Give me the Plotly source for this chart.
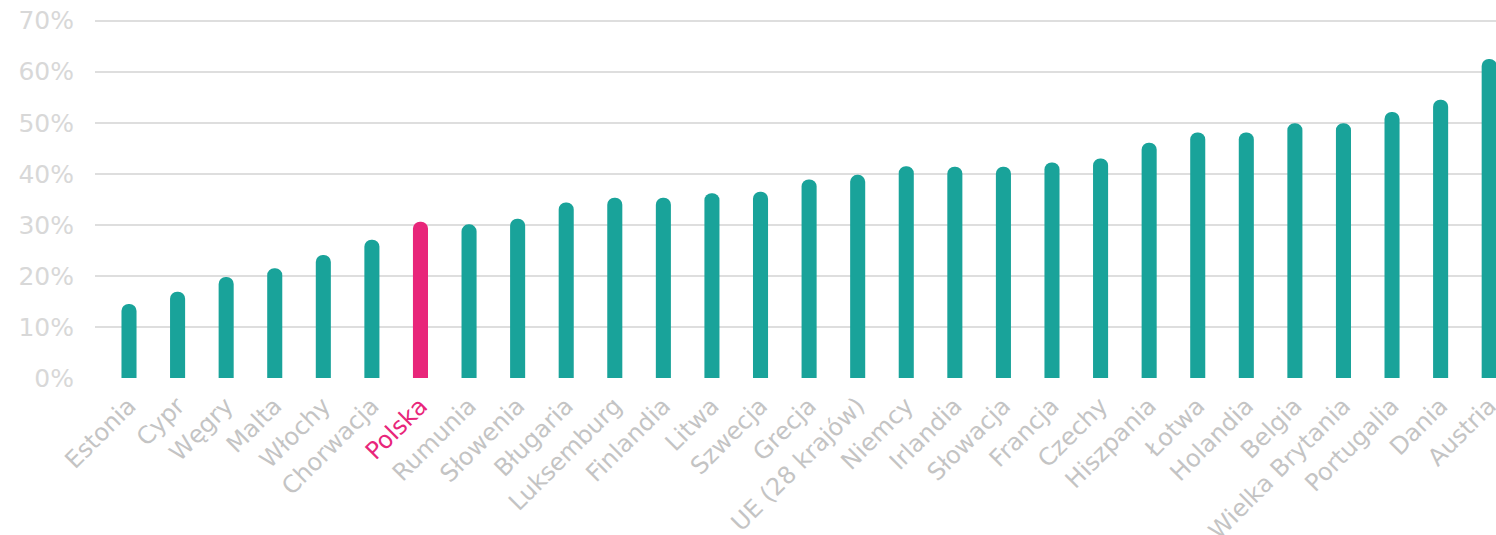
import plotly.graph_objects as go

countries = ["Estonia", "Cypr", "Węgry", "Malta", "Włochy", "Chorwacja", "Polska",
             "Rumunia", "Słowenia", "Bługaria", "Luksemburg", "Finlandia", "Litwa",
             "Szwecja", "Grecja", "UE (28 krajów)", "Niemcy", "Irlandia", "Słowacja",
             "Francja", "Czechy", "Hiszpania", "Łotwa", "Holandia", "Belgia",
             "Wielka Brytania", "Portugalia", "Dania", "Austria"]
values = [14.5, 16.9, 19.8, 21.5, 24.1, 27.1, 30.6,
          30.1, 31.2, 34.4, 35.3, 35.3, 36.2,
          36.5, 38.9, 39.8, 41.5, 41.4, 41.4,
          42.2, 43.0, 46.1, 48.1, 48.1, 49.9,
          49.9, 52.1, 54.5, 62.5]
highlight = "Polska"
y_ticks = [0, 10, 20, 30, 40, 50, 60, 70]
y_labels = ["0%", "10%", "20%", "30%", "40%", "50%", "60%", "70%"]

TEAL = "#19a39a"
PINK = "#e8267a"
GRAY = "#c4c4c4"

colors = [PINK if c == highlight else TEAL for c in countries]
ticktext = [f'<span style="color:{PINK}">{c}</span>' if c == highlight else c for c in countries]

fig = go.Figure(go.Bar(
    x=countries, y=values,
    marker=dict(color=colors, cornerradius="50%", line=dict(width=0)),
    width=0.31,
    hoverinfo="x+y",
))

W, H = 1496, 535
y0_px, y70_px = 377.7, 20.7
ymax = 71.5
ppu = (y0_px - y70_px) / 70
top = y0_px - ymax * ppu

fig.update_layout(
    width=W, height=H,
    margin=dict(l=95, r=0, t=top, b=H - y0_px, pad=0, autoexpand=False),
    paper_bgcolor="white", plot_bgcolor="white",
    font=dict(family="'DejaVu Sans', 'Open Sans', sans-serif", color=GRAY),
    showlegend=False,
)
fig.update_xaxes(
    type="category",
    tickmode="array", tickvals=countries, ticktext=ticktext,
    tickangle=-45,
    tickfont=dict(size=24, color=GRAY),
    range=[-0.70, 28.14],
    showgrid=False, showline=False, zeroline=False, ticks="",
    ticklabelstandoff=8,
    automargin=False,
)
fig.update_yaxes(
    range=[0, ymax],
    tickmode="array", tickvals=y_ticks, ticktext=y_labels,
    tickfont=dict(size=25, color="#d8d8d8"),
    showgrid=True, gridcolor="#dedede", gridwidth=2,
    zeroline=True, zerolinecolor="white", zerolinewidth=3,
    showline=False, ticks="",
    ticklabelstandoff=20,
    automargin=False,
)

fig.write_html("out.html")
